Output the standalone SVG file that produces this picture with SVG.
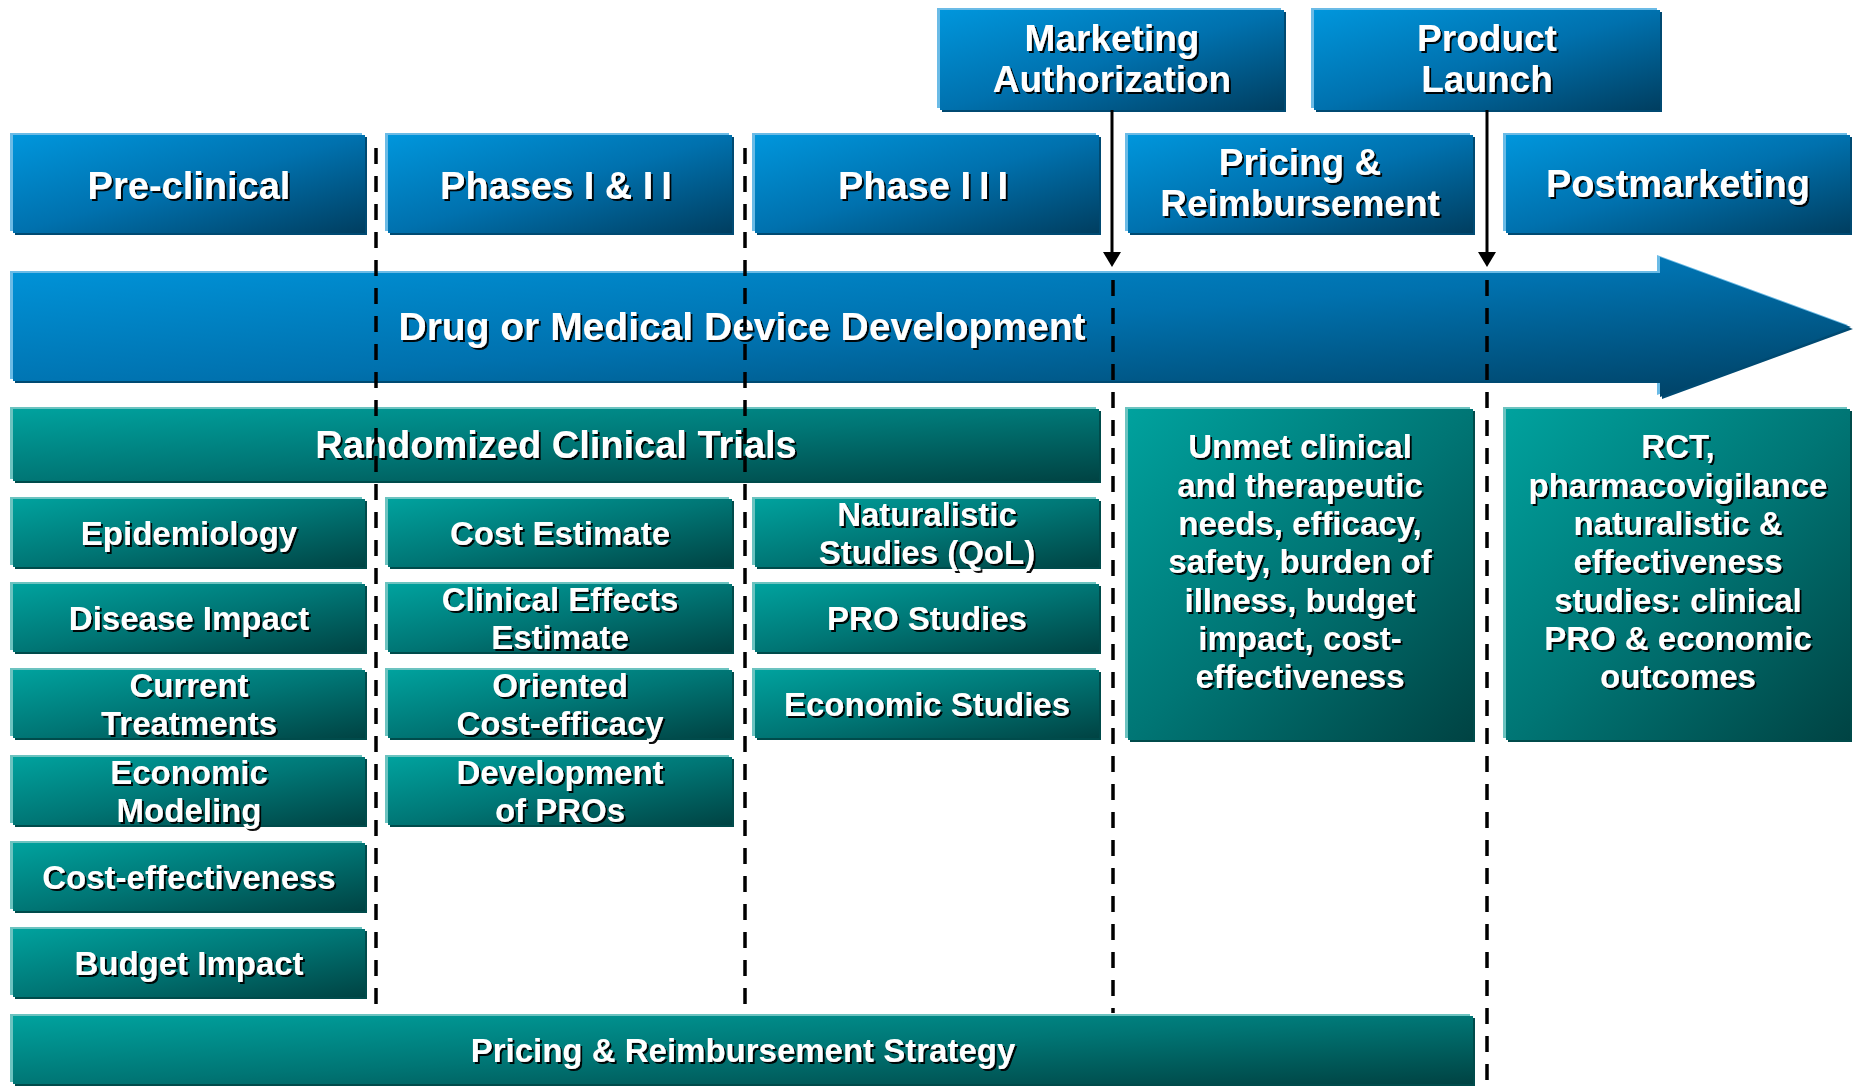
<svg xmlns="http://www.w3.org/2000/svg" width="1856" height="1087" viewBox="0 0 1856 1087">
<defs>
<linearGradient id="gb" x1="0" y1="0" x2="1" y2="1">
<stop offset="0" stop-color="#0096dc"/>
<stop offset="0.5" stop-color="#0071ae"/>
<stop offset="1" stop-color="#003e60"/>
</linearGradient>
<linearGradient id="gt" x1="0" y1="0" x2="1" y2="1">
<stop offset="0" stop-color="#00a29e"/>
<stop offset="0.5" stop-color="#007675"/>
<stop offset="1" stop-color="#004343"/>
</linearGradient>
<filter id="ts" x="-5%" y="-30%" width="115%" height="170%">
<feDropShadow dx="2" dy="2" stdDeviation="0.4" flood-color="#000" flood-opacity="0.95"/>
</filter>
<marker id="ah" markerUnits="userSpaceOnUse" markerWidth="16" markerHeight="18" refX="0" refY="9" orient="auto">
<path d="M0,0 L15,9 L0,18 Z" fill="#000"/>
</marker>
<style>
.hlb{fill:#6bbbe6}
.shb{fill:#004a72}
.mb{fill:url(#gb)}
.hlt{fill:#6cc3c0}
.sht{fill:#004b4b}
.mt{fill:url(#gt)}
.t{font-family:"Liberation Sans",Arial,sans-serif;font-weight:bold;fill:#fff;text-anchor:middle;filter:url(#ts)}
.s39{font-size:39px}
.s38{font-size:38px}
.s37{font-size:37px}
.s33{font-size:33px}
.dash{stroke:#000;stroke-width:3.5;stroke-dasharray:16 12;fill:none}
.conn{stroke:#000;stroke-width:3;fill:none}
</style>
</defs>
<rect width="1856" height="1087" fill="#fff"/>

<!-- top milestone boxes -->
<g id="marketing-authorization">
<rect class="hlb" x="937" y="8" width="344" height="100"/>
<rect class="shb" x="942" y="12" width="344" height="100"/>
<rect class="mb" x="940" y="10" width="344" height="100"/>
<text class="t s37" x="1112" y="51">Marketing</text>
<text class="t s37" x="1112" y="92">Authorization</text>
</g>
<g id="product-launch">
<rect class="hlb" x="1311" y="8" width="346" height="100"/>
<rect class="shb" x="1316" y="12" width="346" height="100"/>
<rect class="mb" x="1314" y="10" width="346" height="100"/>
<text class="t s37" x="1487" y="51">Product</text>
<text class="t s37" x="1487" y="92">Launch</text>
</g>

<!-- header row -->
<g id="pre-clinical">
<rect class="hlb" x="10" y="133" width="352" height="98"/>
<rect class="shb" x="15" y="137" width="352" height="98"/>
<rect class="mb" x="13" y="135" width="352" height="98"/>
<text class="t s38" x="189" y="199">Pre-clinical</text>
</g>
<g id="phases-1-2">
<rect class="hlb" x="385" y="133" width="344" height="98"/>
<rect class="shb" x="390" y="137" width="344" height="98"/>
<rect class="mb" x="388" y="135" width="344" height="98"/>
<text class="t s38" x="560" y="199">Phases I &amp; <tspan letter-spacing="8">II</tspan></text>
</g>
<g id="phase-3">
<rect class="hlb" x="752" y="133" width="344" height="98"/>
<rect class="shb" x="757" y="137" width="344" height="98"/>
<rect class="mb" x="755" y="135" width="344" height="98"/>
<text class="t s38" x="927" y="199">Phase <tspan letter-spacing="8">III</tspan></text>
</g>
<g id="pricing-reimbursement">
<rect class="hlb" x="1125" y="133" width="345" height="98"/>
<rect class="shb" x="1130" y="137" width="345" height="98"/>
<rect class="mb" x="1128" y="135" width="345" height="98"/>
<text class="t s37" x="1300" y="175">Pricing &amp;</text>
<text class="t s37" x="1300" y="216">Reimbursement</text>
</g>
<g id="postmarketing">
<rect class="hlb" x="1503" y="133" width="344" height="98"/>
<rect class="shb" x="1508" y="137" width="344" height="98"/>
<rect class="mb" x="1506" y="135" width="344" height="98"/>
<text class="t s38" x="1678" y="197">Postmarketing</text>
</g>

<!-- big development arrow -->
<g id="development-arrow">
<path class="hlb" d="M10,271 H1657 V255 L1848,325 L1657,395 V379 H10 Z"/>
<path class="shb" d="M15,275 H1662 V259 L1853,329 L1662,399 V383 H15 Z"/>
<path class="mb" d="M13,273 H1660 V257 L1851,327 L1660,397 V381 H13 Z"/>
<text class="t s39" x="742" y="340">Drug or Medical Device Development</text>
</g>

<!-- teal boxes -->
<g id="randomized-clinical-trials">
<rect class="hlt" x="10" y="407" width="1086" height="72"/>
<rect class="sht" x="15" y="411" width="1086" height="72"/>
<rect class="mt" x="13" y="409" width="1086" height="72"/>
<text class="t s38" x="556" y="458">Randomized Clinical Trials</text>
</g>

<g id="epidemiology">
<rect class="hlt" x="10" y="497" width="352" height="68"/>
<rect class="sht" x="15" y="501" width="352" height="68"/>
<rect class="mt" x="13" y="499" width="352" height="68"/>
<text class="t s33" x="189" y="545">Epidemiology</text>
</g>
<g id="disease-impact">
<rect class="hlt" x="10" y="582" width="352" height="68"/>
<rect class="sht" x="15" y="586" width="352" height="68"/>
<rect class="mt" x="13" y="584" width="352" height="68"/>
<text class="t s33" x="189" y="630">Disease Impact</text>
</g>
<g id="current-treatments">
<rect class="hlt" x="10" y="668" width="352" height="68"/>
<rect class="sht" x="15" y="672" width="352" height="68"/>
<rect class="mt" x="13" y="670" width="352" height="68"/>
<text class="t s33" x="189" y="697">Current</text>
<text class="t s33" x="189" y="735">Treatments</text>
</g>
<g id="economic-modeling">
<rect class="hlt" x="10" y="755" width="352" height="68"/>
<rect class="sht" x="15" y="759" width="352" height="68"/>
<rect class="mt" x="13" y="757" width="352" height="68"/>
<text class="t s33" x="189" y="784">Economic</text>
<text class="t s33" x="189" y="822">Modeling</text>
</g>
<g id="cost-effectiveness">
<rect class="hlt" x="10" y="841" width="352" height="68"/>
<rect class="sht" x="15" y="845" width="352" height="68"/>
<rect class="mt" x="13" y="843" width="352" height="68"/>
<text class="t s33" x="189" y="889">Cost-effectiveness</text>
</g>
<g id="budget-impact">
<rect class="hlt" x="10" y="927" width="352" height="68"/>
<rect class="sht" x="15" y="931" width="352" height="68"/>
<rect class="mt" x="13" y="929" width="352" height="68"/>
<text class="t s33" x="189" y="975">Budget Impact</text>
</g>

<g id="cost-estimate">
<rect class="hlt" x="385" y="497" width="344" height="68"/>
<rect class="sht" x="390" y="501" width="344" height="68"/>
<rect class="mt" x="388" y="499" width="344" height="68"/>
<text class="t s33" x="560" y="545">Cost Estimate</text>
</g>
<g id="clinical-effects-estimate">
<rect class="hlt" x="385" y="582" width="344" height="68"/>
<rect class="sht" x="390" y="586" width="344" height="68"/>
<rect class="mt" x="388" y="584" width="344" height="68"/>
<text class="t s33" x="560" y="611">Clinical Effects</text>
<text class="t s33" x="560" y="649">Estimate</text>
</g>
<g id="oriented-cost-efficacy">
<rect class="hlt" x="385" y="668" width="344" height="68"/>
<rect class="sht" x="390" y="672" width="344" height="68"/>
<rect class="mt" x="388" y="670" width="344" height="68"/>
<text class="t s33" x="560" y="697">Oriented</text>
<text class="t s33" x="560" y="735">Cost-efficacy</text>
</g>
<g id="development-of-pros">
<rect class="hlt" x="385" y="755" width="344" height="68"/>
<rect class="sht" x="390" y="759" width="344" height="68"/>
<rect class="mt" x="388" y="757" width="344" height="68"/>
<text class="t s33" x="560" y="784">Development</text>
<text class="t s33" x="560" y="822">of PROs</text>
</g>

<g id="naturalistic-studies">
<rect class="hlt" x="752" y="497" width="344" height="68"/>
<rect class="sht" x="757" y="501" width="344" height="68"/>
<rect class="mt" x="755" y="499" width="344" height="68"/>
<text class="t s33" x="927" y="526">Naturalistic</text>
<text class="t s33" x="927" y="564">Studies (QoL)</text>
</g>
<g id="pro-studies">
<rect class="hlt" x="752" y="582" width="344" height="68"/>
<rect class="sht" x="757" y="586" width="344" height="68"/>
<rect class="mt" x="755" y="584" width="344" height="68"/>
<text class="t s33" x="927" y="630">PRO Studies</text>
</g>
<g id="economic-studies">
<rect class="hlt" x="752" y="668" width="344" height="68"/>
<rect class="sht" x="757" y="672" width="344" height="68"/>
<rect class="mt" x="755" y="670" width="344" height="68"/>
<text class="t s33" x="927" y="716">Economic Studies</text>
</g>

<g id="pricing-needs">
<rect class="hlt" x="1125" y="407" width="345" height="331"/>
<rect class="sht" x="1130" y="411" width="345" height="331"/>
<rect class="mt" x="1128" y="409" width="345" height="331"/>
<text class="t s33" x="1300" y="458">Unmet clinical</text>
<text class="t s33" x="1300" y="497">and therapeutic</text>
<text class="t s33" x="1300" y="535">needs, efficacy,</text>
<text class="t s33" x="1300" y="573">safety, burden of</text>
<text class="t s33" x="1300" y="612">illness, budget</text>
<text class="t s33" x="1300" y="650">impact, cost-</text>
<text class="t s33" x="1300" y="688">effectiveness</text>
</g>
<g id="postmarketing-studies">
<rect class="hlt" x="1503" y="407" width="344" height="331"/>
<rect class="sht" x="1508" y="411" width="344" height="331"/>
<rect class="mt" x="1506" y="409" width="344" height="331"/>
<text class="t s33" x="1678" y="458">RCT,</text>
<text class="t s33" x="1678" y="497">pharmacovigilance</text>
<text class="t s33" x="1678" y="535">naturalistic &amp;</text>
<text class="t s33" x="1678" y="573">effectiveness</text>
<text class="t s33" x="1678" y="612">studies: clinical</text>
<text class="t s33" x="1678" y="650">PRO &amp; economic</text>
<text class="t s33" x="1678" y="688">outcomes</text>
</g>

<g id="pricing-reimbursement-strategy">
<rect class="hlt" x="10" y="1014" width="1460" height="68"/>
<rect class="sht" x="15" y="1018" width="1460" height="68"/>
<rect class="mt" x="13" y="1016" width="1460" height="68"/>
<text class="t s33" x="743" y="1062">Pricing &amp; Reimbursement Strategy</text>
</g>

<!-- phase dividers -->
<g id="dividers">
<line class="dash" x1="376" y1="148" x2="376" y2="1005"/>
<line class="dash" x1="745" y1="148" x2="745" y2="1005"/>
<line class="dash" x1="1113" y1="280" x2="1113" y2="1013"/>
<line class="dash" x1="1487" y1="280" x2="1487" y2="1082"/>
</g>

<!-- connectors -->
<g id="connectors">
<line class="conn" x1="1112" y1="110" x2="1112" y2="252" marker-end="url(#ah)"/>
<line class="conn" x1="1487" y1="110" x2="1487" y2="252" marker-end="url(#ah)"/>
</g>
</svg>
